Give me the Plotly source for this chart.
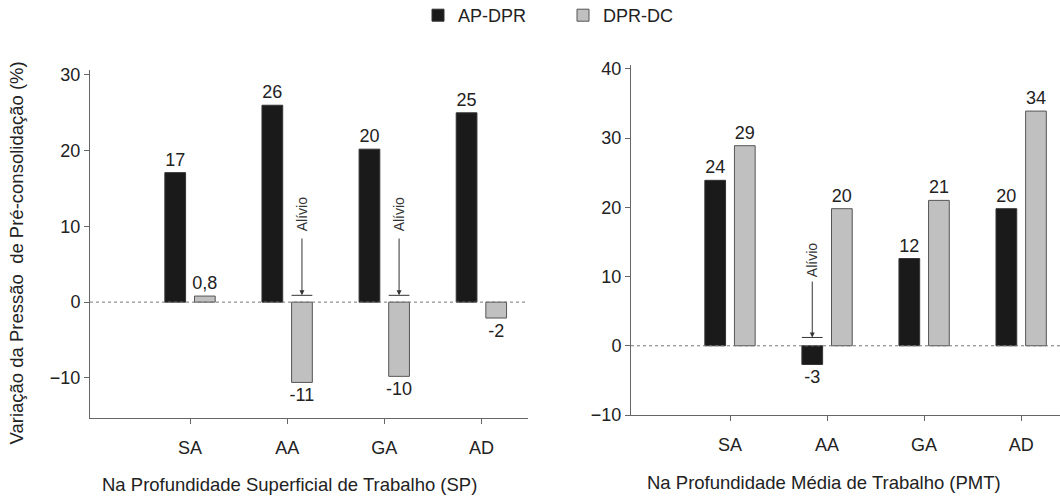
import plotly.graph_objects as go

# ---------------- data ----------------
categories = ["SA", "AA", "GA", "AD"]
series_names = ["AP-DPR", "DPR-DC"]

sp_ap_dpr = [17.1, 26.0, 20.2, 25.0]
sp_dpr_dc = [0.8, -10.6, -9.8, -2.1]
sp_ap_labels = ["17", "26", "20", "25"]
sp_dc_labels = ["0,8", "-11", "-10", "-2"]

pmt_ap_dpr = [23.9, -2.7, 12.6, 19.8]
pmt_dpr_dc = [28.9, 19.8, 21.0, 33.9]
pmt_ap_labels = ["24", "-3", "12", "20"]
pmt_dc_labels = ["29", "20", "21", "34"]

left_yticks = [-10, 0, 10, 20, 30]
right_yticks = [-10, 0, 10, 20, 30, 40]

# "Alívio" markers: (category, series index)
alivio_left = [("AA", 1), ("GA", 1)]
alivio_right = [("AA", 0)]

y_title = "Variação da Pressão  de Pré-consolidação (%)"
x_title_left = "Na Profundidade Superficial de Trabalho (SP)"
x_title_right = "Na Profundidade Média de Trabalho (PMT)"

# ---------------- style ----------------
FONT = "Liberation Sans, Arial, sans-serif"
TXT = "#222222"
AX = "#666666"
BLACK = "#1a1a1a"
GRAY = "#c0c0c0"
BARGAP = 0.39
GROUPGAP = 0.30

xpos = list(range(len(categories)))

fig = go.Figure()

def add_bars(vals, labels, name, color, line_color, xa, ya, show):
    fig.add_trace(go.Bar(
        x=xpos, y=vals, name=name, text=labels,
        textposition="outside", cliponaxis=False, constraintext="none",
        textfont=dict(size=18, color=TXT, family=FONT),
        marker=dict(color=color, line=dict(color=line_color, width=1)),
        xaxis=xa, yaxis=ya, showlegend=show, legendgroup=name,
        offsetgroup=name,
    ))

add_bars(sp_ap_dpr, sp_ap_labels, series_names[0], BLACK, "#333333", "x", "y", True)
add_bars(sp_dpr_dc, sp_dc_labels, series_names[1], GRAY, "#555555", "x", "y", True)
add_bars(pmt_ap_dpr, pmt_ap_labels, series_names[0], BLACK, "#333333", "x2", "y2", False)
add_bars(pmt_dpr_dc, pmt_dc_labels, series_names[1], GRAY, "#555555", "x2", "y2", False)

axis_common = dict(showline=True, linecolor=AX, linewidth=1, ticks="outside",
                   ticklen=5, tickcolor=AX, showgrid=False, zeroline=False,
                   automargin=False,
                   tickfont=dict(size=18, color=TXT, family=FONT))

fig.update_layout(
    width=1060, height=496,
    margin=dict(l=0, r=0, t=0, b=0, autoexpand=False),
    paper_bgcolor="white", plot_bgcolor="white",
    font=dict(family=FONT, color=TXT),
    barmode="group", bargap=BARGAP, bargroupgap=GROUPGAP,
    xaxis=dict(domain=[90 / 1060, 528 / 1060], range=[-1.03, 3.48],
               tickvals=xpos, ticktext=categories, ticklabelstandoff=8,
               anchor="y", **axis_common),
    yaxis=dict(domain=[1 - 418 / 496, 1 - 70.4 / 496], range=[-15.3, 30.6],
               tickvals=left_yticks, anchor="x", **axis_common),
    xaxis2=dict(domain=[631 / 1060, 1.0], range=[-1.02, 3.4],
                tickvals=xpos, ticktext=categories, ticklabelstandoff=8,
                anchor="y2", **axis_common),
    yaxis2=dict(domain=[1 - 415 / 496, 1 - 65.4 / 496], range=[-10, 40.5],
                tickvals=right_yticks, anchor="x2", **axis_common),
    legend=dict(orientation="h", x=418 / 1060, xanchor="left", y=1 + 3 / 496,
                yanchor="top", font=dict(size=18, color=TXT, family=FONT),
                entrywidth=100, entrywidthmode="pixels",
                bgcolor="rgba(0,0,0,0)"),
)

# dotted zero lines
for xr, yr in [("x", "y"), ("x2", "y2")]:
    fig.add_shape(type="line", xref=f"{xr} domain", yref=yr, x0=0, x1=1, y0=0, y1=0,
                  line=dict(color="#777777", width=1, dash="dot"))

# Alívio markers
slot = (1 - BARGAP) / 2
bar_w = slot * (1 - GROUPGAP)

def add_alivio(items, xr, yr, level, arrow_top, text_y):
    for cat, s in items:
        c = categories.index(cat) + (-slot / 2 if s == 0 else slot / 2)
        fig.add_shape(type="line", xref=xr, yref=yr, x0=c - bar_w / 2, x1=c + bar_w / 2,
                      y0=level, y1=level, line=dict(color="#333333", width=1))
        fig.add_annotation(xref=xr, yref=yr, x=c, y=level, ax=c, ay=arrow_top,
                           axref=xr, ayref=yr, text="", showarrow=True,
                           arrowhead=2, arrowsize=1, arrowwidth=1, arrowcolor="#333333")
        fig.add_annotation(xref=xr, yref=yr, x=c, y=text_y, text="Alívio",
                           textangle=-90, showarrow=False,
                           xanchor="center", yanchor="middle",
                           font=dict(size=14, color="#333333", family=FONT))

add_alivio(alivio_left, "x", "y", 0.9, 8.6, 11.6)
add_alivio(alivio_right, "x2", "y2", 1.2, 9.5, 12.4)

# axis titles
fig.add_annotation(xref="paper", yref="paper", x=16 / 1060, y=1 - 253.5 / 496,
                   xanchor="center", yanchor="middle",
                   text=y_title, textangle=-90, showarrow=False,
                   font=dict(size=18.5, color=TXT, family=FONT))
fig.add_annotation(xref="paper", yref="paper", x=289 / 1060, y=1 - 484 / 496,
                   xanchor="center", yanchor="middle",
                   text=x_title_left, showarrow=False,
                   font=dict(size=18.5, color=TXT, family=FONT))
fig.add_annotation(xref="paper", yref="paper", x=824 / 1060, y=1 - 482 / 496,
                   xanchor="center", yanchor="middle",
                   text=x_title_right, showarrow=False,
                   font=dict(size=18.5, color=TXT, family=FONT))

fig.write_html("out.html", config={"displayModeBar": False},
               post_script="document.body.style.margin='0';")
